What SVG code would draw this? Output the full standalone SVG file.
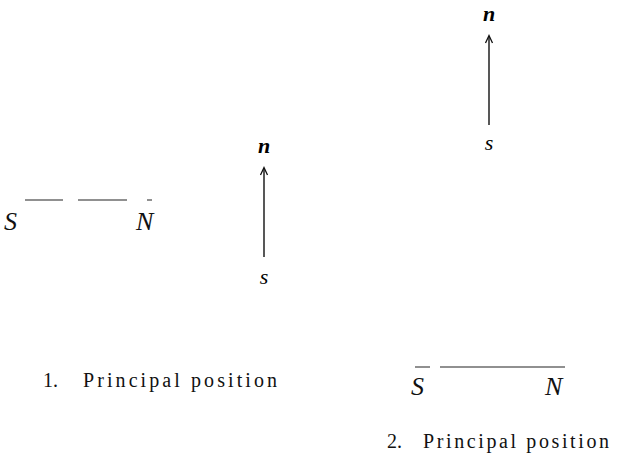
<svg xmlns="http://www.w3.org/2000/svg" width="621" height="464" viewBox="0 0 621 464">
<style>
.pole{font-family:"Liberation Serif","Times New Roman",serif;font-style:italic;font-size:26px;fill:#111;}
.sm{font-family:"Liberation Serif","Times New Roman",serif;font-style:italic;font-size:22px;fill:#000;text-anchor:middle;}
.b{font-weight:bold;}
.cap{font-family:"Liberation Serif","Times New Roman",serif;font-size:20px;fill:#111;}
.bar{stroke:#222;stroke-width:1.2;fill:none;}
.needle{stroke:#111;stroke-width:1.4;fill:none;}
.head{stroke:#111;stroke-width:1.3;fill:none;}
</style>
<rect width="621" height="464" fill="#fff"/>
<g id="magnet1">
  <text class="pole" x="4" y="230">S</text>
  <text class="pole" x="136" y="230">N</text>
</g>
<g id="needle1-labels">
  <text class="sm b" x="264" y="153">n</text>
  <text class="sm" x="264" y="284">s</text>
</g>
<g id="needle2-labels">
  <text class="sm b" x="489" y="21">n</text>
  <text class="sm" x="489" y="150">s</text>
</g>
<g id="magnet2">
  <text class="pole" x="411" y="395">S</text>
  <text class="pole" x="545" y="395">N</text>
</g>
<g id="captions">
  <text class="cap" x="43" y="387">1.</text>
  <text class="cap" x="83" y="387" textLength="194" lengthAdjust="spacing">Principal position</text>
  <text class="cap" x="387" y="448">2.</text>
  <text class="cap" x="423" y="448" textLength="186" lengthAdjust="spacing">Principal position</text>
</g>
<g id="connectors">
  <path class="bar" d="M25 200H63M78 200H127M147 200H152"/>
  <path class="bar" d="M415 367H430M440 367H565"/>
  <path class="needle" d="M264 257V168"/>
  <path class="head" d="M260.5 175L264 167.5L267.5 175"/>
  <path class="needle" d="M489 125V36"/>
  <path class="head" d="M485.5 43L489 35.5L492.5 43"/>
</g>
</svg>
